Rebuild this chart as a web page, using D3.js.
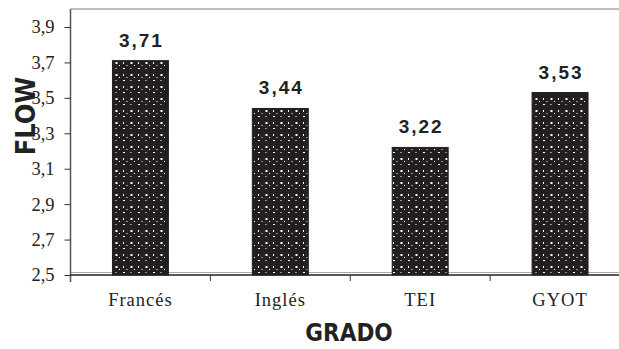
<!DOCTYPE html>
<html><head><meta charset="utf-8">
<script src="https://cdn.jsdelivr.net/npm/d3@7"></script>
<style>
body{margin:0;background:#fff}
.serif{font-family:'Liberation Serif','Times New Roman',serif;font-size:18.5px;fill:#222}
.vl{font-family:'Liberation Sans',Arial,sans-serif;font-weight:bold;font-size:19px;letter-spacing:2px;fill:#222}
.ttl{font-family:'DejaVu Sans Condensed','DejaVu Sans',sans-serif;font-weight:bold;fill:#222}
</style>
</head><body>
<svg id="c" width="619" height="349"></svg>
<script>
const categories = ["Francés", "Inglés", "TEI", "GYOT"];
const values = [3.71, 3.44, 3.22, 3.53];
const yTicks = [2.5, 2.7, 2.9, 3.1, 3.3, 3.5, 3.7, 3.9];
const labels = ["3,71", "3,44", "3,22", "3,53"];
const yTickLabels = ["2,5", "2,7", "2,9", "3,1", "3,3", "3,5", "3,7", "3,9"];

const svg = d3.select("#c");
const mLeft = 70.5, mRight = 630, mTop = 9, mBottom = 275;
const x = d3.scaleBand().domain(categories).range([mLeft, mRight]).paddingInner(0.6).paddingOuter(0.3);
const xb = d3.scaleBand().domain(categories).range([mLeft, mRight]);
const y = d3.scaleLinear().domain([2.5, 3.9]).range([mBottom, 27]);

const defs = svg.append("defs");
const pat = defs.append("pattern").attr("id", "dots").attr("patternUnits", "userSpaceOnUse")
  .attr("width", 15).attr("height", 12);
pat.append("rect").attr("width", 15).attr("height", 12).attr("fill", "#231f20");
[[3,2,1,2],[10.5,2,2,2],[3,8,2,1],[10.5,8,1,1],[6.5,5,1,1],[14,5,1,1]].forEach(d =>
  pat.append("rect").attr("x", d[0]).attr("y", d[1]).attr("width", d[2]).attr("height", d[3]).attr("fill", "#fff"));

// top border and floor lines
svg.append("line").attr("x1", mLeft).attr("x2", 619).attr("y1", mTop).attr("y2", mTop).attr("stroke", "#aaa").attr("stroke-width", 1.5);
svg.append("line").attr("x1", mLeft).attr("x2", 619).attr("y1", mBottom - 2.5).attr("y2", mBottom - 2.5).attr("stroke", "#aaa").attr("stroke-width", 1.2);

// bars
svg.selectAll("rect.bar").data(values).join("rect").attr("class", "bar")
  .attr("x", (d, i) => x(categories[i])).attr("width", x.bandwidth())
  .attr("y", d => y(d)).attr("height", d => mBottom - y(d))
  .attr("fill", "url(#dots)").attr("stroke", "#231f20").attr("stroke-width", 1);

// y axis
const yAxis = d3.axisLeft(y).tickValues(yTicks).tickSize(6).tickFormat((d, i) => yTickLabels[i]);
const gy = svg.append("g").attr("transform", `translate(${mLeft},0)`).call(yAxis)
  .attr("font-family", null).attr("font-size", null);
gy.select(".domain").attr("d", `M0,${mTop}V${mBottom + 7}`).attr("stroke", "#555").attr("stroke-width", 1.5);
gy.selectAll(".tick line").attr("stroke", "#333");
gy.selectAll(".tick text").attr("class", "serif").attr("x", -16).attr("fill", null);

// x axis
svg.append("line").attr("x1", mLeft).attr("x2", 619).attr("y1", mBottom).attr("y2", mBottom).attr("stroke", "#222").attr("stroke-width", 1.5);
svg.selectAll("line.xt").data(categories.slice(1)).join("line").attr("class", "xt")
  .attr("x1", d => xb(d)).attr("x2", d => xb(d)).attr("y1", mBottom).attr("y2", mBottom + 6)
  .attr("stroke", "#333");
svg.selectAll("text.xl").data(categories).join("text").attr("class", "xl serif")
  .attr("x", d => xb(d) + xb.bandwidth() / 2).attr("y", 306).attr("text-anchor", "middle")
  .style("letter-spacing", "1px").text(d => d);

// value labels
svg.selectAll("text.vl").data(values).join("text").attr("class", "vl")
  .attr("x", (d, i) => x(categories[i]) + x.bandwidth() / 2 + 1).attr("y", d => y(d) - 14)
  .attr("text-anchor", "middle").text((d, i) => labels[i]);

// axis titles
svg.append("text").attr("class", "ttl").attr("transform", "translate(35,116) rotate(-90)").attr("text-anchor", "middle")
  .style("font-size", "27px").text("FLOW");
svg.append("text").attr("class", "ttl").attr("x", 349).attr("y", 341).attr("text-anchor", "middle")
  .style("font-size", "24px").text("GRADO");
</script>
</body></html>
